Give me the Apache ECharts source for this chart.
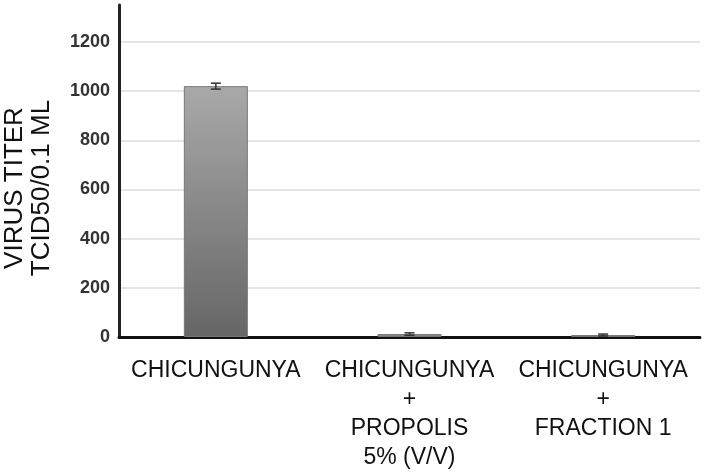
<!DOCTYPE html>
<html>
<head>
<meta charset="utf-8">
<script src="https://cdn.jsdelivr.net/npm/echarts@6/dist/echarts.min.js"></script>
<style>
  html, body { margin: 0; padding: 0; background: #fff; }
  #chart { width: 707px; height: 474px; }
</style>
</head>
<body>
<div id="chart"></div>
<script>
// data
const categories = ['CHICUNGUNYA', 'CHICUNGUNYA\n+\nPROPOLIS\n5% (V/V)', 'CHICUNGUNYA\n+\nFRACTION 1'];
const titers = [1020, 12, 8];
const errors = [12, 5, 4];
const yTicks = [0, 200, 400, 600, 800, 1000, 1200];

const chart = echarts.init(document.getElementById('chart'));
const font = '"Liberation Sans", Arial, sans-serif';

const option = {
  animation: false,
  grid: { left: 119, right: 7, top: 5, bottom: 137, outerBoundsMode: 'none' },
  xAxis: {
    type: 'category',
    data: categories,
    axisLine: { lineStyle: { color: '#111', width: 3 } },
    axisTick: { show: false },
    axisLabel: {
      interval: 0,
      margin: 19,
      fontFamily: font,
      fontSize: 23,
      lineHeight: 29,
      color: '#111'
    }
  },
  yAxis: {
    type: 'value',
    min: 0,
    max: 1350,
    interval: 200,
    name: 'VIRUS TITER\nTCID50/0.1 ML',
    nameLocation: 'middle',
    nameGap: 64,
    nameTextStyle: {
      fontFamily: font,
      fontSize: 26,
      lineHeight: 27,
      color: '#111',
      padding: [0, 34, 0, 0]
    },
    axisLine: { show: true, lineStyle: { color: '#222', width: 3 } },
    axisTick: { show: false },
    axisLabel: {
      margin: 9,
      fontFamily: font,
      fontSize: 18,
      fontWeight: 'bold',
      color: '#333',
      formatter: v => (yTicks.indexOf(v) >= 0 ? String(v) : '')
    },
    splitLine: {
      showMaxLine: false,
      lineStyle: { color: '#dcdcdc', width: 1.5 }
    }
  },
  series: [
    {
      type: 'bar',
      data: titers,
      barWidth: 64,
      itemStyle: {
        color: new echarts.graphic.LinearGradient(0, 0, 0, 1, [
          { offset: 0, color: '#a9a9a9' },
          { offset: 1, color: '#666666' }
        ]),
        borderColor: '#777',
        borderWidth: 1
      }
    },
    {
      type: 'custom',
      data: titers.map((v, i) => [i, v - errors[i], v + errors[i]]),
      z: 5,
      renderItem: function (params, api) {
        const lo = api.coord([api.value(0), api.value(1)]);
        const hi = api.coord([api.value(0), api.value(2)]);
        const half = 5;
        const style = { stroke: '#333', lineWidth: 1.5 };
        return {
          type: 'group',
          children: [
            { type: 'line', shape: { x1: hi[0], y1: hi[1], x2: lo[0], y2: lo[1] }, style: style },
            { type: 'line', shape: { x1: hi[0] - half, y1: hi[1], x2: hi[0] + half, y2: hi[1] }, style: style },
            { type: 'line', shape: { x1: lo[0] - half, y1: lo[1], x2: lo[0] + half, y2: lo[1] }, style: style }
          ]
        };
      }
    }
  ]
};

chart.setOption(option);
</script>
</body>
</html>
